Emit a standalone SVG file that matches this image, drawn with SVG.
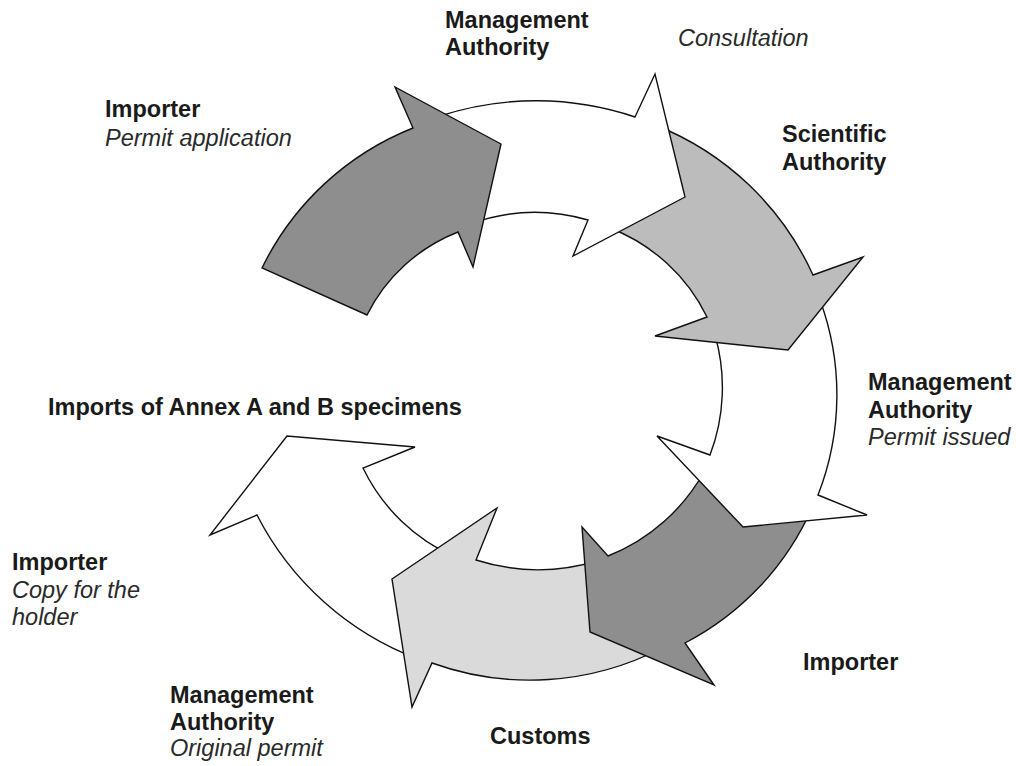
<svg xmlns="http://www.w3.org/2000/svg" width="1016" height="766" viewBox="0 0 1016 766">
<style>
.arr{stroke:#111;stroke-width:1.4;stroke-linejoin:miter}
.w{fill:#ffffff}
.d{fill:#8e8e8e}
.m{fill:#bcbcbc}
.l{fill:#dadada}
text{font-family:"Liberation Sans",Arial,sans-serif;font-size:23.5px;fill:#1a1a1a}
.b{font-weight:bold}
.i{font-style:italic;fill:#2a2a2a}
</style>
<rect width="1016" height="766" fill="#ffffff"/>
<g id="connectors">
<g id="arrow-copy-holder"><path class="arr w" d="M 418,659 A 300 300 0 0 1 257,515 L 210,535 L 287,436 L 415,447 L 363,468 A 185 185 0 0 0 455,557 Z"/></g>
<g id="arrow-customs"><path class="arr l" d="M 662,648 A 288 288 0 0 1 432,663 L 412,707 L 392,579 L 497,508 L 476,560 A 205 205 0 0 0 600,560 Z"/></g>
<g id="arrow-importer"><path class="arr d" d="M 812,508 A 280 280 0 0 1 685,643 L 714,685 L 590,632 L 582,527 L 608,556 A 190 190 0 0 0 705,470 Z"/></g>
<g id="arrow-permit-issued"><path class="arr w" d="M 820,300 A 275 275 0 0 1 818,495 L 867,515 L 743,527 L 657,436 L 710,455 A 190 190 0 0 0 715,335 Z"/></g>
<g id="arrow-scientific"><path class="arr m" d="M 655,125 A 290 290 0 0 1 813,275 L 863,257 L 788,350 L 655,336 L 707,317 A 180 180 0 0 0 610,228 Z"/></g>
<g id="arrow-consultation"><path class="arr w" d="M 440,116 A 310 310 0 0 1 635,117 L 655,74 L 685,197 L 573,256 L 588,220 A 190 190 0 0 0 470,224 Z"/></g>
<g id="arrow-application"><path class="arr d" d="M 262,268 A 285 285 0 0 1 413,128 L 395,87 L 501,144 L 473,267 L 458,232 A 172 172 0 0 0 367,315 Z"/></g>
</g>
<g id="label-ma-top"><text class="b" x="445" y="28">Management</text><text class="b" x="445" y="55">Authority</text></g>
<g id="label-consultation"><text class="i" x="678" y="46">Consultation</text></g>
<g id="label-importer-app"><text class="b" x="105" y="117">Importer</text><text class="i" x="105" y="146">Permit application</text></g>
<g id="label-scientific"><text class="b" x="782" y="142">Scientific</text><text class="b" x="782" y="170">Authority</text></g>
<g id="label-ma-issued"><text class="b" x="868" y="390">Management</text><text class="b" x="868" y="418">Authority</text><text class="i" x="868" y="445">Permit issued</text></g>
<g id="label-title"><text class="b" x="48" y="415">Imports of Annex A and B specimens</text></g>
<g id="label-importer-copy"><text class="b" x="12" y="570">Importer</text><text class="i" x="12" y="598">Copy for the</text><text class="i" x="12" y="625">holder</text></g>
<g id="label-importer"><text class="b" x="803" y="670">Importer</text></g>
<g id="label-ma-original"><text class="b" x="170" y="703">Management</text><text class="b" x="170" y="730">Authority</text><text class="i" x="170" y="756">Original permit</text></g>
<g id="label-customs"><text class="b" x="490" y="744">Customs</text></g>
</svg>
